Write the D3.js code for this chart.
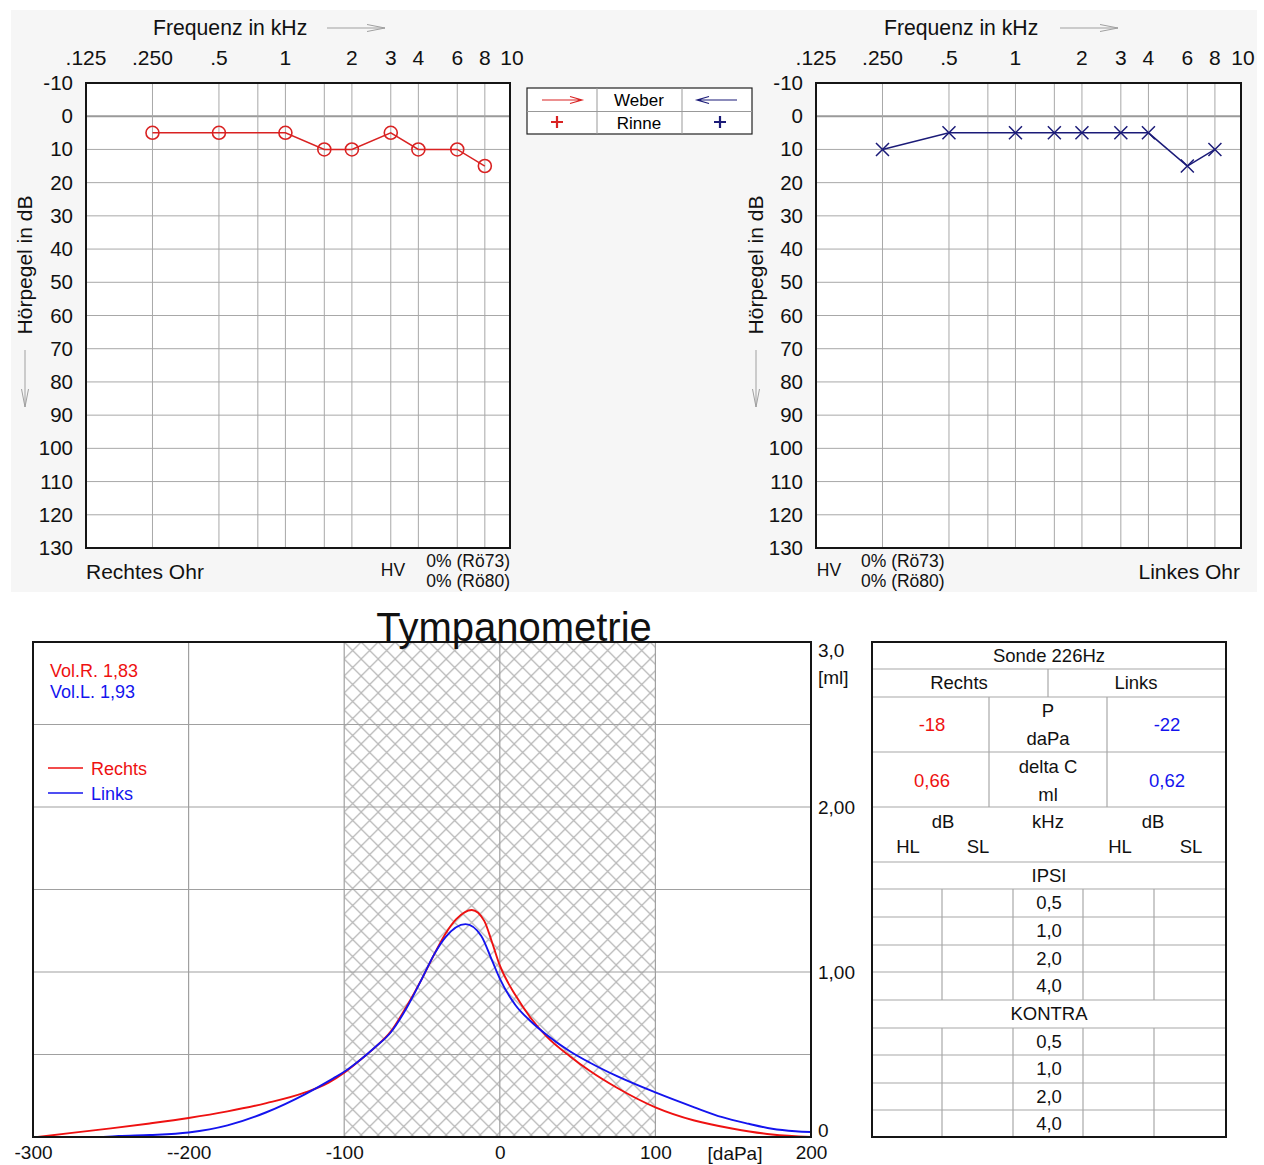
<!DOCTYPE html>
<html>
<head>
<meta charset="utf-8">
<script src="https://cdn.jsdelivr.net/npm/d3@7"></script>
<style>
  body { margin: 0; background: #fff; }
  svg { display: block; }
</style>
</head>
<body>
<script>
// ---------- Audiogram data ----------
const freqTicks = [0.125, 0.25, 0.5, 1, 2, 3, 4, 6, 8, 10];
const freqTickLabels = [".125", ".250", ".5", "1", "2", "3", "4", "6", "8", "10"];
const freqGrid = [0.25, 0.5, 0.75, 1, 1.5, 2, 3, 4, 6, 8];
const freqMax = 10.4;
const dbTicks = [-10, 0, 10, 20, 30, 40, 50, 60, 70, 80, 90, 100, 110, 120, 130];

const rightEarFreq = [0.25, 0.5, 1, 1.5, 2, 3, 4, 6, 8];
const rightEarDb   = [5, 5, 5, 10, 10, 5, 10, 10, 15];
const leftEarFreq  = [0.25, 0.5, 1, 1.5, 2, 3, 4, 6, 8];
const leftEarDb    = [10, 5, 5, 5, 5, 5, 5, 15, 10];

// ---------- Tympanometry data ----------
const pressureTicks = [-300, -200, -100, 0, 100, 200];
const pressureTickLabels = ["-300", "--200", "-100", "0", "100", "200"];
const pressureGrid = [-200, -100, 0, 100];
const complianceTicks = [0, 1, 2, 3];
const complianceTickLabels = ["0", "1,00", "2,00", "3,0"];
const complianceGrid = [0.5, 1, 1.5, 2, 2.5];
const normRange = [-100, 100];

const rechtsPressure   = [-297, -275, -250, -225, -200, -175, -150, -125, -110, -100, -90, -80, -70, -60, -50, -42, -35, -28, -18, -10, -5, 0, 10, 20, 30, 45, 58, 75, 100, 125, 150, 175, 200];
const rechtsCompliance = [0, 0.025, 0.052, 0.082, 0.115, 0.155, 0.205, 0.27, 0.33, 0.39, 0.465, 0.545, 0.64, 0.79, 0.96, 1.11, 1.23, 1.32, 1.376, 1.31, 1.18, 1.04, 0.86, 0.72, 0.61, 0.49, 0.40, 0.30, 0.18, 0.10, 0.05, 0.015, 0];
const linksPressure    = [-255, -245, -225, -200, -175, -150, -125, -107, -100, -90, -80, -70, -60, -50, -42, -35, -22, -12, -5, 0, 10, 20, 30, 45, 58, 75, 100, 125, 143, 160, 175, 190, 200];
const linksCompliance  = [0, 0.006, 0.012, 0.027, 0.07, 0.15, 0.26, 0.355, 0.395, 0.465, 0.545, 0.635, 0.78, 0.96, 1.11, 1.21, 1.29, 1.22, 1.07, 0.96, 0.80, 0.70, 0.62, 0.52, 0.45, 0.37, 0.27, 0.18, 0.12, 0.08, 0.05, 0.035, 0.03];

const volumes = [1.83, 1.93];
const peakPressure = [-18, -22];
const deltaC = [0.66, 0.62];
const reflexFreqLabels = ["0,5", "1,0", "2,0", "4,0"];
const reflexGroups = ["IPSI", "KONTRA"];

// ---------- Colours ----------
const RED_AUD = "#d92222";
const NAVY = "#1b1b78";
const RED = "#ee1111";
const BLUE = "#1414ee";
const GRID = "#a8a8a8";
const FONT = '"Liberation Sans", Arial, Helvetica, sans-serif';

const fmtComma = (v, d) => v.toFixed(d).replace(".", ",");

const svg = d3.select("body").append("svg")
  .attr("width", 1264).attr("height", 1165)
  .style("font-family", FONT);

// light panel behind both audiograms
svg.append("rect").attr("x", 11).attr("y", 10).attr("width", 1246).attr("height", 582)
  .attr("fill", "#f6f6f6");

// ---------- Audiogram ----------
function drawAudiogram(o) {
  const x = d3.scaleLog().domain([freqTicks[0], o.fMax]).range([o.left, o.right]);
  const y = d3.scaleLinear().domain([dbTicks[0], dbTicks[dbTicks.length - 1]]).range([83, 548]);
  const g = svg.append("g");
  const [y0, y1] = y.range();

  g.append("rect").attr("x", o.left).attr("y", y0)
    .attr("width", o.right - o.left).attr("height", y1 - y0).attr("fill", "#fff");

  g.selectAll("line.hg").data(dbTicks.slice(1, -1)).join("line")
    .attr("x1", o.left).attr("x2", o.right)
    .attr("y1", d => y(d)).attr("y2", d => y(d))
    .attr("stroke", d => d === 0 ? "#9a9a9a" : GRID)
    .attr("stroke-width", d => d === 0 ? 2 : 1);

  g.selectAll("line.vg").data(freqGrid).join("line")
    .attr("x1", d => x(d)).attr("x2", d => x(d))
    .attr("y1", y0).attr("y2", y1)
    .attr("stroke", GRID).attr("stroke-width", 1);

  g.append("rect").attr("x", o.left).attr("y", y0)
    .attr("width", o.right - o.left).attr("height", y1 - y0)
    .attr("fill", "none").attr("stroke", "#151515").attr("stroke-width", 2);

  // frequency labels (the last label sits on the right frame edge)
  const lastF = freqTicks[freqTicks.length - 1];
  g.selectAll("text.ft").data(freqTicks).join("text")
    .attr("x", d => d === lastF ? o.right + 2 : x(d)).attr("y", 65)
    .attr("text-anchor", "middle").attr("font-size", 21).attr("fill", "#111")
    .text((d, i) => freqTickLabels[i]);

  // dB labels via axis
  const ax = g.append("g").attr("transform", `translate(${o.left},0)`)
    .call(d3.axisLeft(y).tickValues(dbTicks).tickSize(0).tickPadding(o.labelPad)
      .tickFormat(d => String(d)));
  ax.select(".domain").remove();
  ax.selectAll("text").attr("font-size", 20.5).attr("font-family", FONT).attr("fill", "#111");

  // header
  g.append("text").attr("x", o.titleX).attr("y", 35).attr("font-size", 21.2).attr("fill", "#111")
    .text("Frequenz in kHz");
  const ah = g.append("g").attr("stroke", "#a0a0a0").attr("stroke-width", 1).attr("fill", "none");
  ah.append("line").attr("x1", o.arrowX).attr("x2", o.arrowX + 58).attr("y1", 28).attr("y2", 28);
  ah.append("path").attr("d", `M${o.arrowX + 40},24.5 L${o.arrowX + 58},28 L${o.arrowX + 40},31.5`);

  // y title
  g.append("text").attr("transform", `translate(${o.yTitleX},265) rotate(-90)`)
    .attr("text-anchor", "middle").attr("font-size", 21).attr("fill", "#111")
    .text("Hörpegel in dB");
  const dv = g.append("g").attr("stroke", "#a0a0a0").attr("stroke-width", 1).attr("fill", "none");
  dv.append("line").attr("x1", o.yTitleX - 7).attr("x2", o.yTitleX - 7).attr("y1", 350).attr("y2", 407);
  dv.append("path").attr("d", `M${o.yTitleX - 10.5},389 L${o.yTitleX - 7},407 L${o.yTitleX - 3.5},389`);

  // data
  const pts = o.freq.map((f, i) => [x(f), y(o.db[i])]);
  g.append("path").attr("d", d3.line()(pts))
    .attr("fill", "none").attr("stroke", o.color).attr("stroke-width", 1.5);
  if (o.marker === "circle") {
    g.selectAll("circle.m").data(pts).join("circle")
      .attr("cx", d => d[0]).attr("cy", d => d[1]).attr("r", 6.5)
      .attr("fill", "none").attr("stroke", o.color).attr("stroke-width", 1.6);
  } else {
    g.selectAll("path.m").data(pts).join("path")
      .attr("d", d => `M${d[0] - 6.5},${d[1] - 6.5}L${d[0] + 6.5},${d[1] + 6.5}M${d[0] - 6.5},${d[1] + 6.5}L${d[0] + 6.5},${d[1] - 6.5}`)
      .attr("fill", "none").attr("stroke", o.color).attr("stroke-width", 1.5);
  }

  // footer
  g.append("text").attr("x", o.earX).attr("y", 579).attr("text-anchor", o.earAnchor)
    .attr("font-size", 21).attr("fill", "#111").text(o.ear);
  g.append("text").attr("x", o.hvX).attr("y", 576).attr("text-anchor", "middle")
    .attr("font-size", 17.5).attr("fill", "#111").text("HV");
  g.append("text").attr("x", o.pctX).attr("y", 567).attr("text-anchor", o.pctAnchor)
    .attr("font-size", 17.5).attr("fill", "#111").text("0% (Rö73)");
  g.append("text").attr("x", o.pctX).attr("y", 587).attr("text-anchor", o.pctAnchor)
    .attr("font-size", 17.5).attr("fill", "#111").text("0% (Rö80)");
}

drawAudiogram({
  left: 86, right: 510, fMax: 10.4, labelPad: 13, titleX: 153, arrowX: 327, yTitleX: 32,
  freq: rightEarFreq, db: rightEarDb, color: RED_AUD, marker: "circle",
  ear: "Rechtes Ohr", earX: 86, earAnchor: "start", hvX: 393, pctX: 510, pctAnchor: "end"
});
drawAudiogram({
  left: 816, right: 1241, fMax: 10.5, labelPad: 13, titleX: 884, arrowX: 1060, yTitleX: 763,
  freq: leftEarFreq, db: leftEarDb, color: NAVY, marker: "x",
  ear: "Linkes Ohr", earX: 1240, earAnchor: "end", hvX: 829, pctX: 861, pctAnchor: "start"
});

// ---------- Weber / Rinne legend ----------
(function () {
  const g = svg.append("g");
  g.append("rect").attr("x", 527).attr("y", 88).attr("width", 225).attr("height", 46)
    .attr("fill", "#fff").attr("stroke", "#222").attr("stroke-width", 1.2);
  g.append("line").attr("x1", 527).attr("x2", 752).attr("y1", 111.5).attr("y2", 111.5).attr("stroke", "#999");
  [597, 682].forEach(v => g.append("line").attr("x1", v).attr("x2", v).attr("y1", 88).attr("y2", 134).attr("stroke", "#999"));
  g.append("text").attr("x", 639).attr("y", 106).attr("text-anchor", "middle").attr("font-size", 17).text("Weber");
  g.append("text").attr("x", 639).attr("y", 129).attr("text-anchor", "middle").attr("font-size", 17).text("Rinne");
  g.append("path").attr("d", "M542,100 L582,100 M570,96.5 L582,100 L570,103.5")
    .attr("fill", "none").attr("stroke", RED_AUD).attr("stroke-width", 1.2);
  g.append("path").attr("d", "M737,100 L697,100 M709,96.5 L697,100 L709,103.5")
    .attr("fill", "none").attr("stroke", NAVY).attr("stroke-width", 1.2);
  g.append("path").attr("d", "M551,122 L563,122 M557,116 L557,128")
    .attr("stroke", RED_AUD).attr("stroke-width", 2.2);
  g.append("path").attr("d", "M714,122 L726,122 M720,116 L720,128")
    .attr("stroke", NAVY).attr("stroke-width", 2.2);
})();

// ---------- Tympanometry ----------
(function () {
  const x = d3.scaleLinear().domain([pressureTicks[0], pressureTicks[pressureTicks.length - 1]]).range([33, 811]);
  const y = d3.scaleLinear().domain([complianceTicks[0], complianceTicks[complianceTicks.length - 1]]).range([1137, 642]);
  const g = svg.append("g");
  const [x0, x1] = x.range();
  const [yb, yt] = y.range();

  const defs = svg.append("defs");
  const pat = defs.append("pattern").attr("id", "hatch").attr("patternUnits", "userSpaceOnUse")
    .attr("width", 17).attr("height", 17).attr("x", x(normRange[0])).attr("y", yt);
  pat.append("path").attr("d", "M0,0 L17,17 M17,0 L0,17 M-1,16 L1,18 M16,-1 L18,1")
    .attr("stroke", "#b9b9b9").attr("stroke-width", 1.3).attr("fill", "none");

  g.append("rect").attr("x", x0).attr("y", yt).attr("width", x1 - x0).attr("height", yb - yt).attr("fill", "#fff");
  g.append("rect").attr("x", x(normRange[0])).attr("y", yt)
    .attr("width", x(normRange[1]) - x(normRange[0])).attr("height", yb - yt)
    .attr("fill", "url(#hatch)");

  g.selectAll("line.hg").data(complianceGrid).join("line")
    .attr("x1", x0).attr("x2", x1).attr("y1", d => y(d)).attr("y2", d => y(d))
    .attr("stroke", "#a0a0a0").attr("stroke-width", 1.2);
  g.selectAll("line.vg").data(pressureGrid).join("line")
    .attr("x1", d => x(d)).attr("x2", d => x(d)).attr("y1", yt).attr("y2", yb)
    .attr("stroke", "#a0a0a0").attr("stroke-width", 1.2);

  const line = d3.line().curve(d3.curveMonotoneX).x(d => x(d[0])).y(d => y(d[1]));
  g.append("path").attr("d", line(rechtsPressure.map((p, i) => [p, rechtsCompliance[i]])))
    .attr("fill", "none").attr("stroke", RED).attr("stroke-width", 1.9);
  g.append("path").attr("d", line(linksPressure.map((p, i) => [p, linksCompliance[i]])))
    .attr("fill", "none").attr("stroke", BLUE).attr("stroke-width", 1.9);

  g.append("rect").attr("x", x0).attr("y", yt).attr("width", x1 - x0).attr("height", yb - yt)
    .attr("fill", "none").attr("stroke", "#151515").attr("stroke-width", 2);

  // axes
  const axB = g.append("g").attr("transform", `translate(0,${yb})`)
    .call(d3.axisBottom(x).tickValues(pressureTicks).tickSize(0).tickPadding(9)
      .tickFormat((d, i) => pressureTickLabels[i]));
  axB.select(".domain").remove();
  axB.selectAll("text").attr("font-size", 19).attr("font-family", FONT).attr("fill", "#111");
  g.append("text").attr("x", 735).attr("y", 1160).attr("text-anchor", "middle")
    .attr("font-size", 19).attr("fill", "#111").text("[daPa]");

  const axR = g.append("g").attr("transform", `translate(${x1},0)`)
    .call(d3.axisRight(y).tickValues(complianceTicks).tickSize(0).tickPadding(7)
      .tickFormat((d, i) => complianceTickLabels[i]));
  axR.select(".domain").remove();
  axR.selectAll("text").attr("font-size", 19).attr("font-family", FONT).attr("fill", "#111")
    .attr("dy", d => d === complianceTicks[0] ? "-0.05em" : d === complianceTicks[complianceTicks.length - 1] ? "0.75em" : "0.32em");
  g.append("text").attr("x", 818).attr("y", 684).attr("font-size", 19).attr("fill", "#111").text("[ml]");

  // title
  g.append("text").attr("x", 514).attr("y", 641).attr("text-anchor", "middle")
    .attr("font-size", 40).attr("fill", "#111").text("Tympanometrie");

  // volumes and legend
  g.append("text").attr("x", 50).attr("y", 677).attr("font-size", 18).attr("fill", RED)
    .text("Vol.R. " + fmtComma(volumes[0], 2));
  g.append("text").attr("x", 50).attr("y", 698).attr("font-size", 18).attr("fill", BLUE)
    .text("Vol.L. " + fmtComma(volumes[1], 2));
  [["Rechts", RED, 768], ["Links", BLUE, 793]].forEach(([t, c, yy]) => {
    g.append("line").attr("x1", 48).attr("x2", 83).attr("y1", yy).attr("y2", yy)
      .attr("stroke", c).attr("stroke-width", 1.5);
    g.append("text").attr("x", 91).attr("y", yy + 6.5).attr("font-size", 18).attr("fill", c).text(t);
  });
})();

// ---------- Tympanometry result table ----------
(function () {
  const g = svg.append("g").attr("font-size", 18.5).attr("fill", "#111");
  const X0 = 872, X1 = 1226, XM = 1049;
  const rowsY = [642, 669, 697, 752, 807, 862, 889, 917, 945, 972, 1000, 1028, 1055, 1083, 1110, 1137];
  const lineCol = "#a8a8a8";

  g.append("rect").attr("x", X0).attr("y", rowsY[0]).attr("width", X1 - X0).attr("height", rowsY[rowsY.length - 1] - rowsY[0])
    .attr("fill", "#fff");
  g.selectAll("line.r").data(rowsY.slice(1, -1)).join("line")
    .attr("x1", X0).attr("x2", X1).attr("y1", d => d).attr("y2", d => d)
    .attr("stroke", lineCol).attr("stroke-width", 1.2);

  const segs = [[1048, 669, 697], [989, 697, 807], [1107, 697, 807]];
  [942, 1013, 1083, 1154].forEach(v => { segs.push([v, 889, 1000]); segs.push([v, 1028, 1137]); });
  g.selectAll("line.c").data(segs).join("line")
    .attr("x1", d => d[0]).attr("x2", d => d[0]).attr("y1", d => d[1]).attr("y2", d => d[2])
    .attr("stroke", lineCol).attr("stroke-width", 1.2);

  g.append("rect").attr("x", X0).attr("y", rowsY[0]).attr("width", X1 - X0).attr("height", rowsY[rowsY.length - 1] - rowsY[0])
    .attr("fill", "none").attr("stroke", "#151515").attr("stroke-width", 2);

  const txt = (t, x, y, c) => g.append("text").attr("x", x).attr("y", y).attr("dy", "0.35em")
    .attr("text-anchor", "middle").attr("fill", c || "#111").text(t);

  txt("Sonde 226Hz", XM, 656);
  txt("Rechts", 959, 683);
  txt("Links", 1136, 683);
  txt(String(peakPressure[0]), 932, 725, RED);
  txt("P", 1048, 711);
  txt("daPa", 1048, 739);
  txt(String(peakPressure[1]), 1167, 725, BLUE);
  txt(fmtComma(deltaC[0], 2), 932, 781, RED);
  txt("delta C", 1048, 767);
  txt("ml", 1048, 795);
  txt(fmtComma(deltaC[1], 2), 1167, 781, BLUE);
  txt("dB", 943, 822); txt("kHz", 1048, 822); txt("dB", 1153, 822);
  txt("HL", 908, 847); txt("SL", 978, 847); txt("HL", 1120, 847); txt("SL", 1191, 847);

  reflexGroups.forEach((grp, gi) => {
    const base = gi === 0 ? 5 : 10;
    txt(grp, XM, (rowsY[base] + rowsY[base + 1]) / 2);
    reflexFreqLabels.forEach((f, i) => {
      txt(f, XM, (rowsY[base + 1 + i] + rowsY[base + 2 + i]) / 2);
    });
  });
})();
</script>
</body>
</html>
